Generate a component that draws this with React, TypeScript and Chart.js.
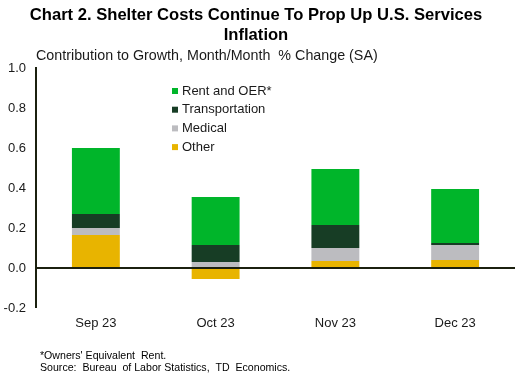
import React, { useEffect, useRef } from "react";
import { Chart, registerables } from "chart.js";

Chart.register(...registerables);

const categories = ["Sep 23", "Oct 23", "Nov 23", "Dec 23"];
const rentOER = [0.33, 0.24, 0.28, 0.27];
const transportation = [0.07, 0.085, 0.115, 0.01];
const medical = [0.035, 0.03, 0.065, 0.075];
const other = [0.165, -0.055, 0.035, 0.04];
const yTicks = [-0.2, 0, 0.2, 0.4, 0.6, 0.8, 1.0];

const C_RENT = "#00b52a";
const C_TRANS = "#173d25";
const C_MED = "#bcbcc0";
const C_OTHER = "#e8b400";
const AXIS = "#1b200f";
const FONT = "'Liberation Sans', Arial, sans-serif";

const legendItems = [
  { label: "Rent and OER*", color: C_RENT },
  { label: "Transportation", color: C_TRANS },
  { label: "Medical", color: C_MED },
  { label: "Other", color: C_OTHER },
];

const textPlugin = {
  id: "texts",
  afterDraw(chart: any) {
    const ctx = chart.ctx as CanvasRenderingContext2D;
    ctx.save();
    ctx.fillStyle = "#000";
    ctx.textBaseline = "alphabetic";
    ctx.textAlign = "center";
    ctx.font = `bold 16.6px ${FONT}`;
    ctx.fillText("Chart 2. Shelter Costs Continue To Prop Up U.S. Services", 256, 20);
    ctx.fillText("Inflation", 256, 40);
    ctx.textAlign = "left";
    ctx.font = `14.3px ${FONT}`;
    ctx.fillStyle = "#1a1a1a";
    ctx.fillText("Contribution to Growth, Month/Month  % Change (SA)", 36, 60);
    // legend
    ctx.font = `13px ${FONT}`;
    legendItems.forEach((it, i) => {
      const cy = 91 + i * 18.7;
      ctx.fillStyle = it.color;
      ctx.fillRect(172, cy - 3, 6, 6);
      ctx.fillStyle = "#1a1a1a";
      ctx.textBaseline = "middle";
      ctx.fillText(it.label, 182, cy);
    });
    // footnotes
    ctx.textBaseline = "alphabetic";
    ctx.font = `10.6px ${FONT}`;
    ctx.fillStyle = "#000";
    ctx.fillText("*Owners' Equivalent  Rent.", 40, 359);
    ctx.fillText("Source:  Bureau  of Labor Statistics,  TD  Economics.", 40, 370.5);
    ctx.restore();
  },
};

export default function App() {
  const ref = useRef<HTMLCanvasElement | null>(null);
  useEffect(() => {
    if (!ref.current) return;
    const chart = new Chart(ref.current, {
      type: "bar",
      data: {
        labels: categories,
        datasets: [
          { label: "Other", data: other, backgroundColor: C_OTHER },
          { label: "Medical", data: medical, backgroundColor: C_MED },
          { label: "Transportation", data: transportation, backgroundColor: C_TRANS },
          { label: "Rent and OER*", data: rentOER, backgroundColor: C_RENT },
        ],
      },
      options: {
        animation: false,
        responsive: false,
        devicePixelRatio: 1,
        layout: { padding: { top: 68, left: 0, right: 1, bottom: 0 } },
        datasets: { bar: { barPercentage: 0.4, categoryPercentage: 1, borderWidth: 0 } },
        plugins: { legend: { display: false }, tooltip: { enabled: false }, title: { display: false } },
        scales: {
          x: {
            stacked: true,
            grid: { display: false, drawTicks: false },
            border: { display: false },
            ticks: { color: "#1a1a1a", font: { family: FONT, size: 13 }, padding: 8, maxRotation: 0 },
            afterFit: (s: any) => { s.height = 77; },
          },
          y: {
            stacked: true,
            min: -0.2,
            max: 1.0,
            afterBuildTicks: (s: any) => { s.ticks = yTicks.map((v) => ({ value: v })); },
            ticks: {
              color: "#1a1a1a",
              font: { family: FONT, size: 13 },
              padding: 10,
              callback: (v: any) => Number(v).toFixed(1),
            },
            grid: {
              drawTicks: false,
              color: AXIS,
              lineWidth: (c: any) => (c.tick && Math.abs(c.tick.value) < 1e-9 ? 2 : 0),
            },
            border: { display: true, color: AXIS, width: 2 },
            afterFit: (s: any) => { s.width = 36; },
          },
        },
      },
      plugins: [textPlugin],
    });
    return () => chart.destroy();
  }, []);
  return (
    <div style={{ position: "fixed", left: 0, top: 0, width: 516, height: 385, background: "#fff" }}>
      <canvas ref={ref} width={516} height={385} style={{ display: "block" }} />
    </div>
  );
}
